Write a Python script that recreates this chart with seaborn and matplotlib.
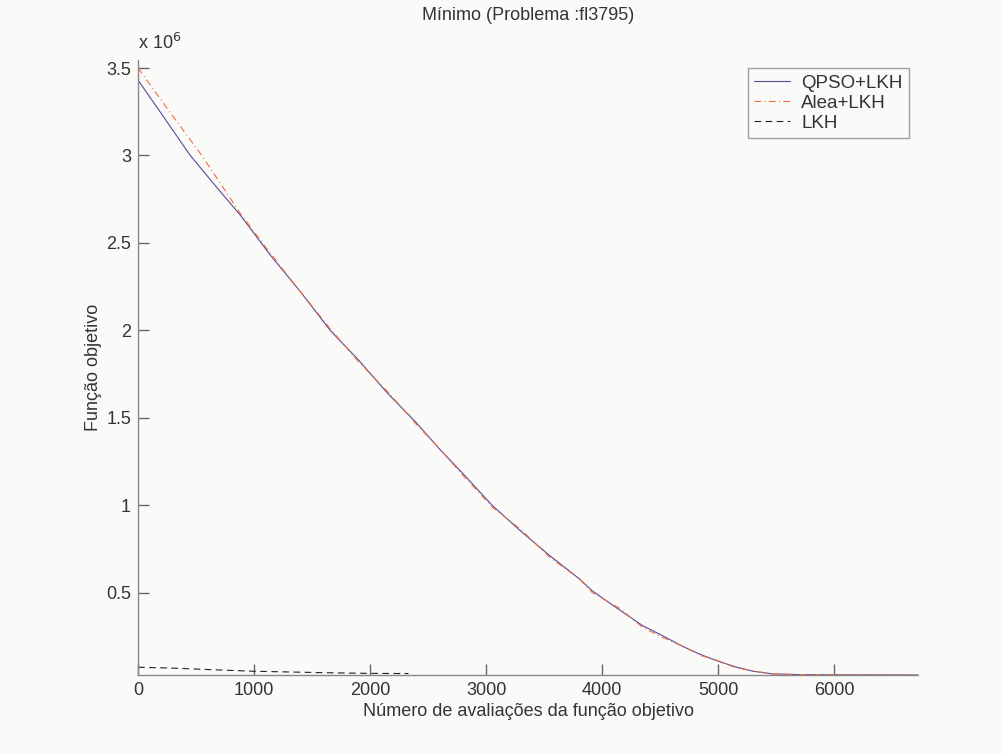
import matplotlib
matplotlib.use("Agg")
import matplotlib.pyplot as plt
from matplotlib.ticker import FuncFormatter
import seaborn as sns

# Evaluation counts and objective values (in units of 1e6)
qpso_x = [0, 200, 450, 700, 880, 1140, 1400, 1655, 1900, 2150, 2400, 2603, 2800,
          3050, 3300, 3550, 3800, 3914, 4150, 4350, 4500, 4700, 4850, 5000, 5150,
          5300, 5470, 5700, 6000, 6300, 6720]
qpso_y = [3.431, 3.24, 3.00, 2.80, 2.66, 2.43, 2.22, 2.00, 1.83, 1.64, 1.47, 1.317,
          1.18, 1.00, 0.85, 0.71, 0.58, 0.51, 0.40, 0.31, 0.26, 0.19, 0.145, 0.107,
          0.075, 0.05, 0.035, 0.031, 0.030, 0.0295, 0.0288]

alea_x = [0, 250, 549, 750, 880, 1140, 1400, 1655, 1900, 2150, 2400, 2603, 2800,
          3050, 3300, 3550, 3800, 3914, 4150, 4350, 4500, 4700, 4850, 5000, 5150,
          5300, 5470, 5700, 6000, 6300, 6720]
alea_y = [3.50, 3.27, 3.00, 2.80, 2.67, 2.44, 2.22, 2.01, 1.82, 1.65, 1.46, 1.32,
          1.17, 0.99, 0.86, 0.70, 0.58, 0.50, 0.41, 0.30, 0.25, 0.19, 0.14, 0.11,
          0.07, 0.052, 0.034, 0.031, 0.030, 0.0295, 0.029]

lkh_x = [0, 300, 600, 1000, 1300, 1600, 2000, 2330]
lkh_y = [0.073, 0.068, 0.060, 0.050, 0.046, 0.042, 0.038, 0.037]

series_labels = ["QPSO+LKH", "Alea+LKH", "LKH"]
x_ticks = [0, 1000, 2000, 3000, 4000, 5000, 6000]
y_ticks = [0.5, 1, 1.5, 2, 2.5, 3, 3.5]

SCALE = 1e6
bg = "#fafaf9"
txt = "#333333"
axis_col = "#888888"
FS = 13

sns.set_style("white")
plt.rcParams["font.family"] = ["Liberation Sans", "DejaVu Sans"]
plt.rcParams["text.color"] = txt

fig = plt.figure(figsize=(10.04, 7.54), dpi=100, facecolor=bg)
ax = fig.add_axes([0.1375, 0.1048, 0.7768, 0.8156], facecolor=bg)

sns.lineplot(x=qpso_x, y=[v * SCALE for v in qpso_y], ax=ax, color="#5a4a9c",
             linewidth=0.8, label=series_labels[0])
sns.lineplot(x=alea_x, y=[v * SCALE for v in alea_y], ax=ax, color="#f0703c",
             linewidth=0.8, linestyle=(0, (6, 3, 1, 3)), label=series_labels[1])
sns.lineplot(x=lkh_x, y=[v * SCALE for v in lkh_y], ax=ax, color="#222222",
             linewidth=0.8, linestyle=(0, (6, 4)), label=series_labels[2])

ax.set_xlim(0, 6720)
ax.set_ylim(0.0288 * SCALE, 3.546 * SCALE)
ax.set_xticks(x_ticks)
ax.set_yticks([v * SCALE for v in y_ticks])
ax.yaxis.set_major_formatter(FuncFormatter(lambda v, p: f"{v / SCALE:g}"))

for s in ["top", "right"]:
    ax.spines[s].set_visible(False)
for s in ["left", "bottom"]:
    ax.spines[s].set_color(axis_col)
    ax.spines[s].set_linewidth(1.0)
ax.tick_params(direction="in", length=8, width=1.0, color="#666666",
               labelsize=FS, labelcolor=txt, pad=5, left=True, bottom=True)

ax.set_title("Mínimo (Problema :fl3795)", fontsize=FS, color=txt, pad=29)
ax.set_xlabel("Número de avaliações da função objetivo", fontsize=FS, color=txt, labelpad=3)
ax.set_ylabel("Função objetivo", fontsize=FS, color=txt, labelpad=3)
ax.text(0.0, 1.012, r"x 10$^{6}$", transform=ax.transAxes, fontsize=FS,
        color=txt, ha="left", va="bottom")

leg = ax.legend(loc="upper right", bbox_to_anchor=(0.9885, 0.987), fontsize=13.5,
                frameon=True, fancybox=False, handlelength=1.9, handletextpad=0.6,
                borderpad=0.35, labelspacing=0.15, borderaxespad=0)
leg.get_frame().set_edgecolor("#888888")
leg.get_frame().set_facecolor(bg)
leg.get_frame().set_linewidth(1.0)
for t in leg.get_texts():
    t.set_color(txt)

fig.savefig("out.png", dpi=100, facecolor=bg)
